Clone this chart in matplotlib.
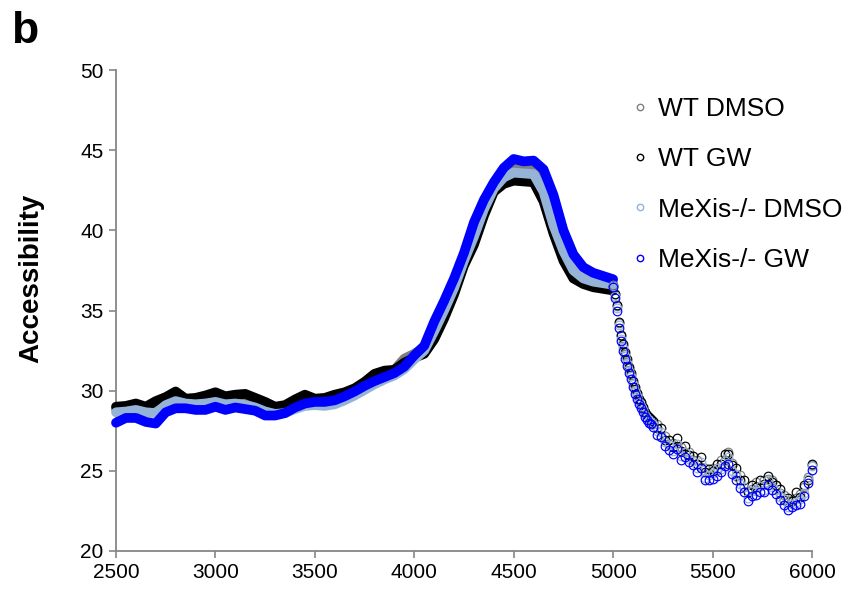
import matplotlib
matplotlib.use("Agg")
import matplotlib.pyplot as plt
from matplotlib.lines import Line2D
import numpy as np

plt.rcParams['font.family'] = ['Liberation Sans', 'DejaVu Sans']

# ---------------- data ----------------
series_names = ["WT DMSO", "WT GW", "MeXis-/- DMSO", "MeXis-/- GW"]
series_colors = ["#7f7f7f", "#000000", "#95b3d7", "#0000ff"]

# dense part: 2500..5000 every 50
x_head = np.arange(2500, 5001, 50)

wt_dmso_head = [28.85, 28.9, 29.0, 28.85, 28.9, 29.3, 29.6, 29.4, 29.35, 29.45,
                29.6, 29.4, 29.5, 29.45, 29.25, 29.0, 28.8, 28.9, 29.2, 29.45,
                29.35, 29.35, 29.5, 29.7, 30.0, 30.4, 30.85, 31.1, 31.3, 32.0,
                32.3, 32.7, 34.0, 35.3, 36.7, 38.3, 39.9, 41.5, 42.8, 43.5,
                43.85, 43.8, 43.75, 42.8, 40.8, 39.0, 37.8, 37.2, 36.9, 36.75,
                36.65]
wt_gw_head = [29.0, 29.05, 29.2, 29.0, 29.35, 29.6, 29.95, 29.5, 29.55, 29.7,
              29.9, 29.65, 29.75, 29.8, 29.55, 29.3, 29.0, 29.1, 29.45, 29.75,
              29.5, 29.55, 29.75, 29.9, 30.15, 30.55, 31.05, 31.25, 31.3, 31.75,
              32.05, 32.3, 33.2, 34.5, 36.0, 37.8, 39.1, 40.9, 42.4, 42.9,
              43.1, 43.05, 43.0, 41.8, 39.8, 38.1, 37.0, 36.65, 36.45, 36.35,
              36.25]
mx_dmso_head = [28.65, 28.7, 28.8, 28.65, 28.6, 29.1, 29.35, 29.2, 29.15, 29.2,
                29.3, 29.15, 29.2, 29.1, 28.95, 28.7, 28.55, 28.6, 28.85, 29.05,
                29.1, 29.05, 29.15, 29.4, 29.7, 30.05, 30.4, 30.7, 30.95, 31.35,
                31.95, 32.5, 33.7, 35.0, 36.4, 38.1, 39.6, 41.3, 42.6, 43.3,
                43.6, 43.55, 43.5, 42.4, 40.3, 38.7, 37.5, 37.0, 36.8, 36.7,
                36.6]
mx_gw_head = [28.0, 28.3, 28.3, 28.05, 27.95, 28.65, 28.9, 28.9, 28.8, 28.8,
              29.0, 28.8, 28.95, 28.85, 28.75, 28.45, 28.45, 28.6, 28.95, 29.2,
              29.3, 29.3, 29.4, 29.65, 29.95, 30.3, 30.6, 30.85, 31.1, 31.5,
              32.2, 32.8, 34.3, 35.6, 37.0, 38.6, 40.5, 41.9, 43.0, 43.9,
              44.45, 44.3, 44.35, 43.8, 42.2, 40.0, 38.5, 37.7, 37.35, 37.15,
              36.95]

# sparse part: 5000..5200 every 10, then 5220..6000 every 20
x_tail = np.concatenate([np.arange(5000, 5201, 10), np.arange(5220, 6001, 20)])

wt_dmso_tail = [36.6, 36.0, 35.3, 34.2, 33.4, 32.8, 32.3, 31.8, 31.4, 31.0, 30.5,
                30.1, 29.8, 29.45, 29.2, 28.9, 28.65, 28.45, 28.3, 28.15, 28.0,
                27.9, 27.2, 27.2, 26.7, 26.75, 26.5, 26.5, 26.15, 26.2, 25.7,
                25.7, 25.25, 25.15, 24.85, 25.2, 25.05, 25.65, 25.7, 26.15, 25.5,
                24.65, 24.75, 24.0, 23.75, 23.85, 24.3, 24.05, 24.4, 24.5, 24.4,
                24.1, 23.6, 23.5, 23.05, 23.15, 23.3, 23.55, 24.0, 24.6, 25.35]
wt_gw_tail = [36.5, 36.05, 35.35, 34.3, 33.5, 32.9, 32.4, 31.95, 31.5, 31.1, 30.6,
              30.2, 29.85, 29.5, 29.3, 29.0, 28.7, 28.5, 28.35, 28.25, 28.1,
              27.7, 27.7, 26.95, 26.95, 26.5, 27.05, 26.25, 26.55, 26.0, 25.95,
              25.45, 25.85, 24.95, 25.1, 25.0, 25.45, 25.45, 26.05, 26.05, 25.35,
              25.15, 24.45, 24.4, 23.7, 24.1, 24.0, 24.45, 24.15, 24.7, 24.3,
              24.1, 23.85, 23.2, 23.3, 23.1, 23.7, 23.35, 24.1, 24.4, 25.45]
mx_dmso_tail = [36.55, 35.9, 35.15, 34.1, 33.25, 32.65, 32.15, 31.7, 31.25, 30.9, 30.4,
                29.95, 29.65, 29.3, 29.05, 28.8, 28.5, 28.3, 28.15, 28.05, 27.9,
                27.5, 27.4, 26.8, 26.6, 26.25, 26.7, 25.9, 26.2, 25.75, 25.6,
                25.2, 25.55, 24.55, 24.75, 24.85, 25.15, 25.1, 25.6, 25.85, 25.0,
                24.8, 24.15, 24.0, 23.3, 23.75, 23.75, 24.05, 23.8, 24.4, 24.0,
                23.8, 23.35, 23.25, 22.75, 22.95, 23.05, 23.25, 23.6, 24.5, 25.3]
mx_gw_tail = [36.45, 35.8, 35.0, 33.9, 33.1, 32.5, 32.0, 31.55, 31.1, 30.75, 30.25,
              29.8, 29.5, 29.15, 28.9, 28.65, 28.35, 28.15, 28.0, 27.9, 27.75,
              27.25, 27.1, 26.55, 26.3, 26.05, 26.35, 25.7, 25.85, 25.55, 25.35,
              24.9, 25.15, 24.4, 24.45, 24.5, 24.7, 24.9, 25.3, 25.45, 24.8,
              24.45, 23.95, 23.65, 23.1, 23.45, 23.5, 23.7, 23.65, 24.1, 23.8,
              23.55, 23.15, 22.9, 22.55, 22.75, 22.85, 22.95, 23.4, 24.25, 25.05]

heads = [wt_dmso_head, wt_gw_head, mx_dmso_head, mx_gw_head]
tails = [wt_dmso_tail, wt_gw_tail, mx_dmso_tail, mx_gw_tail]

x_ticks = [2500, 3000, 3500, 4000, 4500, 5000, 5500, 6000]
y_ticks = [20, 25, 30, 35, 40, 45, 50]

# ---------------- figure ----------------
fig = plt.figure(figsize=(8.59, 5.91), dpi=100)
ax = fig.add_axes([116/859, 40/591, (812-116)/859, (551-70)/591])

for h, c in zip(heads, series_colors):
    ax.plot(x_head, h, color=c, lw=7.0, solid_capstyle='round',
            solid_joinstyle='round', clip_on=False, zorder=3)
for t, c in zip(tails, series_colors):
    ax.plot(x_tail, t, linestyle='none', marker='o', markersize=6.2,
            markerfacecolor='none', markeredgecolor=c, markeredgewidth=0.85,
            clip_on=False, zorder=3)

ax.set_xlim(2500, 6000)
ax.set_ylim(20, 50)
ax.set_xticks(x_ticks)
ax.set_yticks(y_ticks)
ax.tick_params(axis='both', direction='out', length=5, width=1.2,
               color='#868686', labelsize=15, pad=4)
for s in ['top', 'right']:
    ax.spines[s].set_visible(False)
for s in ['left', 'bottom']:
    ax.spines[s].set_color('#868686')
    ax.spines[s].set_linewidth(1.3)

ax.set_ylabel("Accessibility", fontsize=20, fontweight='bold')
ax.yaxis.set_label_coords((44 - 116) / 696, (551 - 278) / 481)

handles = [Line2D([], [], linestyle='none', marker='o', markersize=4.6,
                  markerfacecolor='none', markeredgecolor=c, markeredgewidth=1.0)
           for c in series_colors]
ax.legend(handles, series_names, loc='upper left',
          bbox_to_anchor=(0.727, 0.966), frameon=False, fontsize=19,
          handlelength=0.6, handletextpad=0.35, labelspacing=1.0,
          borderaxespad=0)

fig.text(11/859, 1 - 11/591, "b", fontsize=32, fontweight='bold', va='top')

fig.savefig("out.png", dpi=100)
